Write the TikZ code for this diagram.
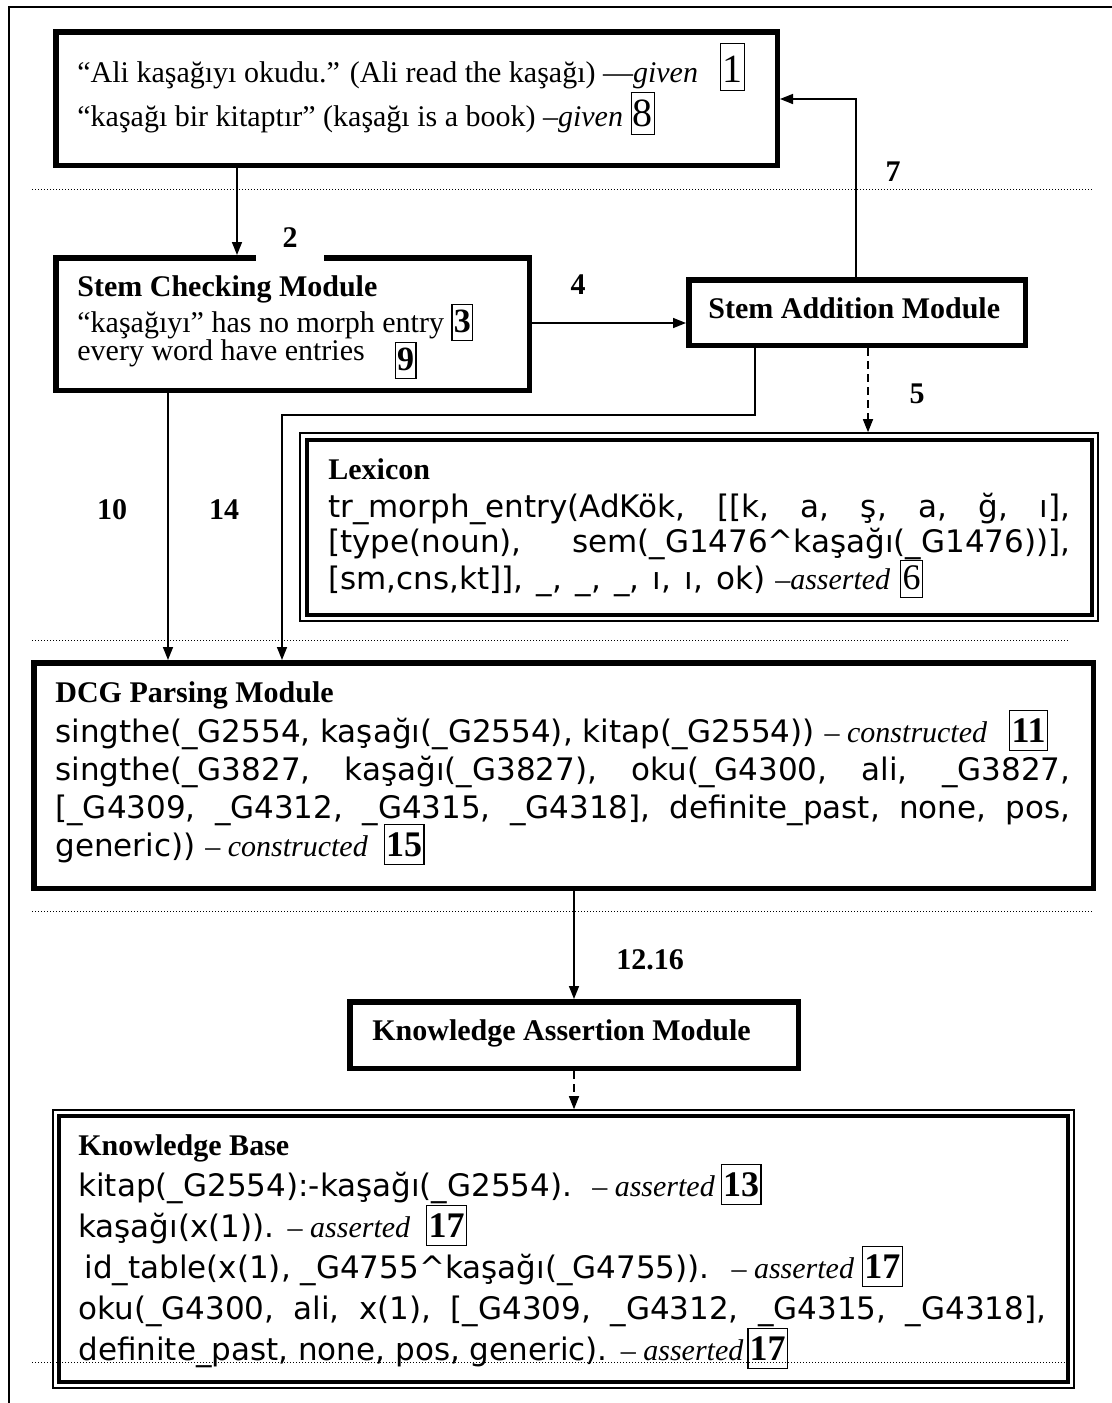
\documentclass[tikz,border=0pt]{standalone}
\usepackage{fontspec}
\setmainfont{Liberation Serif}
\newfontfamily\codefont{DejaVu Sans}
\usetikzlibrary{arrows.meta,calc}

% boxed step numbers: size (pt), rule height (pt), content
\newcommand\tagnum[3]{{\setlength\fboxsep{0.6pt}\setlength\fboxrule{0.6pt}%
  \fbox{\rmfamily\fontsize{#1}{#1}\selectfont\rule[-3.5pt]{0pt}{#2pt}#3}}}
\newcommand\tagb[3]{\tagnum{#1}{#2}{\bfseries #3}}
\newcommand\note[1]{{\rmfamily\fontsize{15}{18}\selectfont\itshape #1}}

\tikzset{
  modbox/.style={draw, line width=2.75pt, inner sep=0pt},
  storeout/.style={draw, line width=0.8pt, inner sep=0pt},
  storein/.style={line width=2.2pt},
  txt/.style={anchor=base west, inner sep=0pt, font=\fontsize{15}{18}\selectfont},
  head/.style={txt, font=\fontsize{15}{18}\selectfont\bfseries},
  code/.style={anchor=base west, inner sep=0pt, font=\codefont\fontsize{15.5}{18}\selectfont},
  lbl/.style={inner sep=0pt, font=\fontsize{15}{18}\selectfont\bfseries},
  conn/.style={line width=0.75pt, -{Triangle[length=6.5pt,width=5pt]}},
  dconn/.style={conn, dash pattern=on 4pt off 2.5pt},
  sepline/.style={line width=0.5pt, dash pattern=on 0.6pt off 0.9pt},
  frameline/.style={line width=0.7pt}
}

\begin{document}
\begin{tikzpicture}[x=0.5pt,y=-0.5pt]
\useasboundingbox (0,0) rectangle (1112,1403);

% page frame
\draw[frameline] (9,1403) -- (9,7) -- (1112,7);

% dotted separators
\draw[sepline] (32,189) -- (1092,189);
\draw[sepline] (32,640) -- (1069,640);
\draw[sepline] (32,911) -- (1092,911);
\draw[sepline] (32,1362) -- (1065,1362);

% modules and stores
\node[modbox, minimum width=360.75pt, minimum height=66.75pt] (input) at (416.5,98.5) {};
\node[modbox, minimum width=236.75pt, minimum height=66.25pt] (stemchk) at (292.5,324) {};
\node[modbox, minimum width=168.25pt, minimum height=32.75pt] (stemadd) at (857,312.5) {};
\node[storeout, minimum width=399pt, minimum height=94pt] (lex) at (699,527) {};
\draw[storein] ($(lex.north west)+(8,8)$) rectangle ($(lex.south east)+(-7,-7)$);
\node[modbox, minimum width=529.75pt, minimum height=112.75pt] (dcg) at (563.5,775.5) {};
\node[modbox, minimum width=224.25pt, minimum height=33.25pt] (ka) at (574,1035) {};
\node[storeout, minimum width=510.5pt, minimum height=139pt] (kb) at (563.5,1249) {};
\draw[storein] ($(kb.north west)+(7,7)$) rectangle ($(kb.south east)+(-7,-7)$);

% input sentences
\node[txt] (in1) at (77,82) {“Ali kaşağıyı okudu.” (Ali read the kaşağı) —\textit{given}\hspace{11pt}\tagnum{20}{21.8}{1}};
\node[txt] (in2) at (77,126) {“kaşağı bir kitaptır” (kaşağı is a book) –\textit{given} \tagnum{20}{19.3}{8}};

% stem checking
\node[head] (sc0) at (77,296) {Stem Checking Module};
\node[txt] (sc1) at (77,332) {“kaşağıyı” has no morph entry \tagb{17}{16.3}{3}};
\node[txt] (sc2) at (77,360) {every word have entries\hspace{15pt}\raisebox{-5pt}{\tagb{17}{16.3}{9}}};

% stem addition
\node[head] (sa0) at (708,318) {Stem Addition Module};

% lexicon
\node[head] (lx0) at (328,479) {Lexicon};
\node[code] (lx1) at (328,517) {\makebox[371pt][s]{tr\_morph\_entry(AdKök, [[k, a, ş, a, ğ, ı],}};
\node[code] (lx2) at (328,552) {\makebox[371pt][s]{[type(noun), sem(\_G1476\textasciicircum kaşağı(\_G1476))],}};
\node[code] (lx3) at (328,589) {\makebox[218.5pt][s]{[sm,cns,kt]], \_, \_, \_, ı, ı, ok)} \note{–asserted} \tagnum{18}{16.8}{6}};

% DCG parsing
\node[head] (dc0) at (55,702) {DCG Parsing Module};
\node[code] (dc1) at (55,742) {singthe(\_G2554, kaşağı(\_G2554), kitap(\_G2554)) \note{– constructed}\hspace{11pt}\tagb{18}{18.3}{11}};
\node[code] (dc2) at (55,780) {\makebox[507.5pt][s]{singthe(\_G3827, kaşağı(\_G3827), oku(\_G4300, ali, \_G3827,}};
\node[code] (dc3) at (55,818) {\makebox[507.5pt][s]{[\_G4309, \_G4312, \_G4315, \_G4318], definite\_past, none, pos,}};
\node[code] (dc4) at (55,856) {generic)) \note{– constructed}\hspace{8pt}\tagb{18}{18.3}{15}};

% knowledge assertion
\node[head] (ka0) at (372,1040) {Knowledge Assertion Module};

% knowledge base
\node[head] (kb0) at (78,1155) {Knowledge Base};
\node[code] (kb1) at (78,1196) {kitap(\_G2554):-kaşağı(\_G2554).\hspace{10pt}\note{– asserted}\hspace{3pt}\tagb{18}{18.3}{13}};
\node[code] (kb2) at (78,1237) {kaşağı(x(1)). \note{– asserted}\hspace{8pt}\tagb{18}{18.3}{17}};
\node[code] (kb3) at (84,1278) {id\_table(x(1), \_G4755\textasciicircum kaşağı(\_G4755)).\hspace{11pt}\note{– asserted}\hspace{4pt}\tagb{18}{18.3}{17}};
\node[code] (kb4) at (78,1319) {\makebox[484pt][s]{oku(\_G4300, ali, x(1), [\_G4309, \_G4312, \_G4315, \_G4318],}};
\node[code] (kb5) at (78,1360) {definite\_past, none, pos, generic). \note{– asserted}\hspace{2pt}\tagb{18}{18.3}{17}};

% connector guide points
\coordinate (xA) at (237,0);
\coordinate (yB) at (0,323);
\coordinate (xC) at (856,0);
\coordinate (yD) at (0,99);
\coordinate (xE) at (868,0);
\coordinate (xF) at (168,0);
\coordinate (xG) at (755,0);
\coordinate (bend14) at (282,415);

% connectors
\draw[conn] (input.south -| xA) -- (stemchk.north -| xA);
\draw[conn] (stemchk.east |- yB) -- (stemadd.west |- yB);
\draw[conn] (stemadd.north -| xC) |- (input.east |- yD);
\draw[dconn] (stemadd.south -| xE) -- (lex.north -| xE);
\draw[conn] (stemchk.south -| xF) -- (dcg.north -| xF);
\draw[conn] (stemadd.south -| xG) |- (bend14) -- (dcg.north -| bend14);
\draw[conn] (dcg.south -| ka.north) -- (ka.north);
\draw[dconn] (ka.south) -- (kb.north -| ka.south);

% step labels
\node[lbl, fill=white, minimum width=34pt, text depth=7pt, anchor=base] (l2) at (290,247) {2};
\node[lbl] (l7) at (893,172) {7};
\node[lbl] (l4) at (578,285) {4};
\node[lbl] (l5) at (917,394) {5};
\node[lbl] (l10) at (112,510) {10};
\node[lbl] (l14) at (224,510) {14};
\node[lbl] (l1216) at (650,960) {12.16};
\end{tikzpicture}
\end{document}
